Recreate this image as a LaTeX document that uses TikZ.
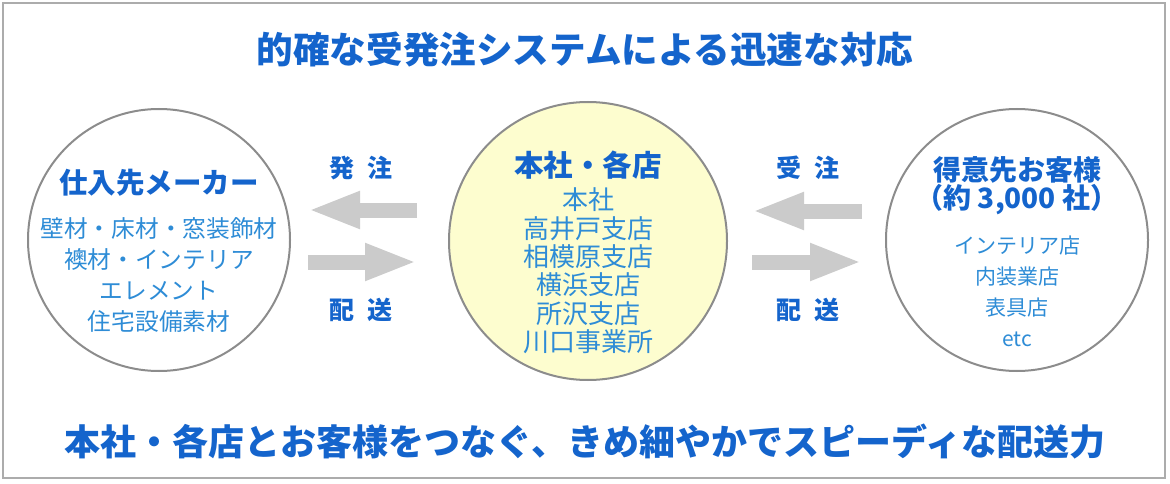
\documentclass[tikz,border=0pt]{standalone}
\usepackage{fontspec}
\setmainfont{Noto Sans CJK JP}
\usetikzlibrary{arrows.meta}
\definecolor{headblue}{HTML}{1464CC}
\definecolor{itemblue}{HTML}{2E8CD6}
\definecolor{ringgray}{HTML}{8C8C8C}
\definecolor{arrowgray}{HTML}{CBCBCB}
\definecolor{hqyellow}{HTML}{FDFDCF}
\tikzset{
  ring/.style={circle, draw=ringgray, line width=2pt, minimum size=262pt, inner sep=0pt},
  head/.style={headblue, font=\bfseries\fontsize{28.5}{29}\selectfont, align=center},
  items/.style={itemblue, font=\fontsize{23.7}{31}\selectfont, align=center},
  flow/.style={arrowgray, line width=15pt, -{Triangle[length=52pt, width=34pt]}}
}
\begin{document}
\begin{tikzpicture}[x=1pt, y=-1pt, every node/.style={inner sep=0pt}]
\useasboundingbox (0,0) rectangle (1170,484);
\draw[gray!65, line width=2pt] (3,3) rectangle (1165,478);

% Title and bottom line
\node[headblue, font=\bfseries\fontsize{36.6}{36}\selectfont] (title) at (585,50) {的確な受発注システムによる迅速な対応};
\node[headblue, font=\bfseries\fontsize{36}{36}\selectfont] (slogan) at (585,442) {本社・各店とお客様をつなぐ、きめ細やかでスピーディな配送力};

% Circles
\node[ring] (maker) at (159,240) {};
\node[ring, fill=hqyellow, minimum size=278pt] (hq) at (588,241) {};
\node[ring] (client) at (1017,240) {};

% Left: suppliers
\node[head] (makerhead) at (159,183) {仕入先メーカー};
\node[items] (makeritems) at (159,275) {壁材・床材・窓装飾材\\襖材・インテリア\\エレメント\\住宅設備素材};

% Centre: head office and branches
\node[head, font=\bfseries\fontsize{29.5}{29}\selectfont] (hqhead) at (588,165) {本社・各店};
\node[items, font=\fontsize{26}{28.4}\selectfont] (hqitems) at (588,271) {本社\\高井戸支店\\相模原支店\\横浜支店\\所沢支店\\川口事業所};

% Right: customers
\node[head, font=\bfseries\fontsize{28}{28}\selectfont] (clienthead) at (1017,186) {得意先お客様\\（約 3,000 社）};
\node[items, font=\fontsize{21}{31}\selectfont] (clientitems) at (1017,291) {インテリア店\\内装業店\\表具店\\etc};

% Arrow ends
\coordinate (m1) at (308,210);
\coordinate (m2) at (417,210);
\coordinate (m3) at (308,262);
\coordinate (m4) at (417,262);
\coordinate (c1) at (752,211);
\coordinate (c2) at (862,211);
\coordinate (c3) at (752,262);
\coordinate (c4) at (862,262);

% Flows between circles
\draw[flow] (m2) -- (m1);
\draw[flow] (m3) -- (m4);
\draw[flow] (c2) -- (c1);
\draw[flow] (c3) -- (c4);

% Flow labels
\node[head, font=\bfseries\fontsize{25}{25}\selectfont] (order) at (361,168) {発\hspace{0.55em}注};
\node[head, font=\bfseries\fontsize{25}{25}\selectfont] (ship) at (361,310) {配\hspace{0.55em}送};
\node[head, font=\bfseries\fontsize{25}{25}\selectfont] (receive) at (808,168) {受\hspace{0.55em}注};
\node[head, font=\bfseries\fontsize{25}{25}\selectfont] (deliver) at (808,310) {配\hspace{0.55em}送};
\end{tikzpicture}
\end{document}
